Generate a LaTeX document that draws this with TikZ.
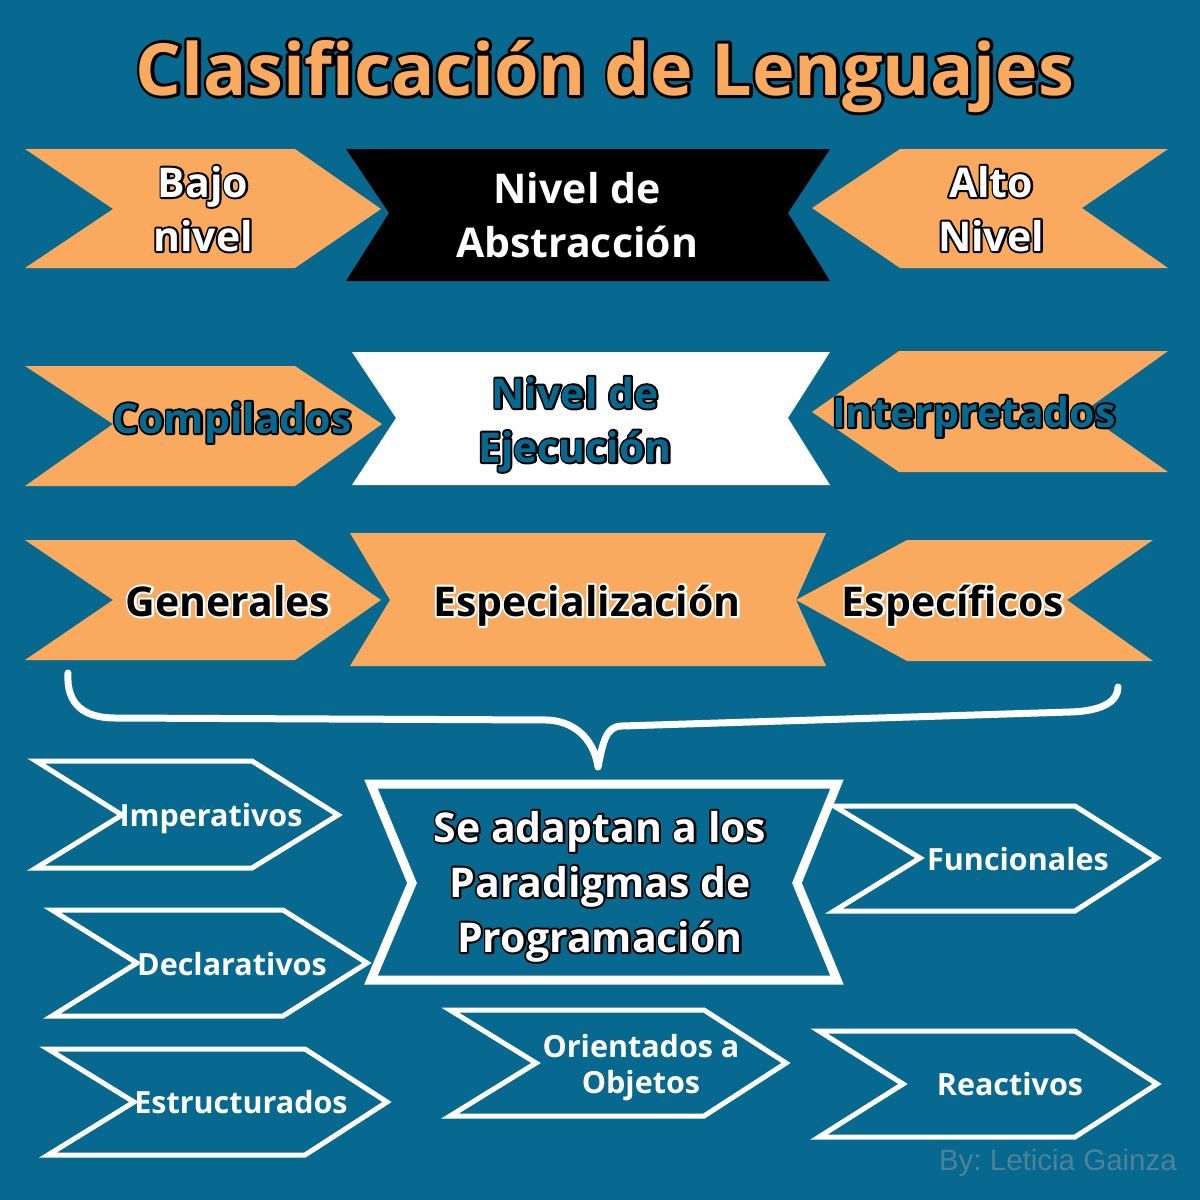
\documentclass[tikz,border=0pt]{standalone}
\usepackage{fontspec}
\setmainfont{Open Sans}
\newfontfamily\byfont{Liberation Sans}
\definecolor{bg}{HTML}{07698F}
\definecolor{org}{HTML}{F9AA5E}
\definecolor{tealtxt}{HTML}{07698F}
\definecolor{bytxt}{HTML}{4F8299}
\frenchspacing
% #1 fill colour, #2 outline colour, #3 stroke width, #4 text
\newcommand\olt[4]{\leavevmode\rlap{\color{#2}\special{pdf:literal direct 1 j #3 w 2 Tr}#4\special{pdf:literal direct 0 Tr}}{\color{#1}#4}}
\begin{document}
\begin{tikzpicture}[x=1pt,y=-1pt,
  orgshape/.style={fill=org},
  chev/.style={draw=white,line width=5pt,line join=miter},
  bigtxt/.style={font=\bfseries\fontsize{41}{54}\selectfont,align=center,inner sep=0pt,anchor=base},
  smalltxt/.style={font=\bfseries\fontsize{30.5}{36}\selectfont,text=white,align=center,inner sep=0pt,anchor=base}]
\fill[bg] (0,0) rectangle (1200,1200);
\useasboundingbox (0,0) rectangle (1200,1200);
% row 1
\fill[orgshape] (25,149) -- (295,149) -- (381,209) -- (295,268) -- (25,268) -- (113,209) -- cycle;
\fill[black] (346,149) -- (830,149) -- (788,213) -- (830,281) -- (346,281) -- (389,213) -- cycle;
\fill[orgshape] (900,149) -- (1168,149) -- (1082,208) -- (1168,268) -- (900,268) -- (812,208) -- cycle;
% row 2
\fill[orgshape] (25,366) -- (295,366) -- (382,424) -- (295,486) -- (25,486) -- (113,424) -- cycle;
\fill[white] (352,352) -- (830,352) -- (788,418) -- (830,485) -- (352,485) -- (396,418) -- cycle;
\fill[orgshape] (899,351) -- (1168,351) -- (1083,412) -- (1168,472) -- (899,472) -- (812,412) -- cycle;
% row 3
\fill[orgshape] (25,540) -- (295,540) -- (381,600) -- (295,660) -- (25,660) -- (113,600) -- cycle;
\fill[orgshape] (350,533) -- (826,533) -- (796,600) -- (826,666) -- (350,666) -- (390,600) -- cycle;
\fill[orgshape] (907,540) -- (1153,540) -- (1067,600) -- (1153,661) -- (907,661) -- (796,600) -- cycle;
% brace
\coordinate (bl) at (68,673);
\coordinate (br) at (1118,687);
\coordinate (bt) at (598,767);
\draw[white,line width=7pt,line cap=round,line join=round] (bl) .. controls (66,705) and (85,718) .. (115,718) -- (548,720) .. controls (580,722) and (595,745) .. (bt) .. controls (603,742) and (606,726) .. (622,726) -- (1070,712) .. controls (1105,711) and (1118,700) .. (br);
% central
\draw[white,line width=9pt,line join=miter] (371,784) -- (837,784) -- (797,883) -- (837,980) -- (371,980) -- (412,883) -- cycle;
% chevrons
\draw[chev] (36,761) -- (252,761) -- (338,815) -- (252,868) -- (36,868) -- (122,815) -- cycle;
\draw[chev] (834,806) -- (1075,806) -- (1157,858) -- (1075,911) -- (834,911) -- (920,858) -- cycle;
\draw[chev] (52,910) -- (283,910) -- (367,963) -- (283,1016) -- (52,1016) -- (137,963) -- cycle;
\draw[chev] (48,1049) -- (305,1049) -- (387,1102) -- (305,1155) -- (48,1155) -- (134,1102) -- cycle;
\draw[chev] (450,1010) -- (704,1010) -- (786,1063) -- (704,1116) -- (450,1116) -- (536,1063) -- cycle;
\draw[chev] (819,1031) -- (1075,1031) -- (1157,1084) -- (1075,1137) -- (819,1137) -- (903,1084) -- cycle;
% texts
\node[font=\bfseries\fontsize{72}{80}\selectfont,inner sep=0pt,anchor=base] (title) at (605,95) {\olt{org}{black}{6}{Clasificación de Lenguajes}};
\node[bigtxt] (bajo) at (203,251) {\olt{white}{black}{4}{Bajo}\\\olt{white}{black}{4}{nivel}};
\node[bigtxt,text=white] (abs) at (577,257) {Nivel de\\Abstracción};
\node[bigtxt] (alto) at (991,251) {\olt{white}{black}{4}{Alto}\\\olt{white}{black}{4}{Nivel}};
\node[bigtxt] (comp) at (232,433) {\olt{tealtxt}{black}{4}{Compilados}};
\node[bigtxt] (ejec) at (575,462) {\olt{tealtxt}{black}{4}{Nivel de}\\\olt{tealtxt}{black}{4}{Ejecución}};
\node[bigtxt] (interp) at (974,427) {\olt{tealtxt}{black}{4}{Interpretados}};
\node[bigtxt] (gen) at (228,616) {\olt{black}{white}{4}{Generales}};
\node[bigtxt] (esp) at (587,616) {\olt{black}{white}{4}{Especialización}};
\node[bigtxt] (espf) at (953,616) {\olt{black}{white}{4}{Específicos}};
\node[bigtxt,font=\bfseries\fontsize{41}{55}\selectfont] (par) at (600,952) {\olt{white}{black}{4}{Se adaptan a los}\\\olt{white}{black}{4}{Paradigmas de}\\\olt{white}{black}{4}{Programación}};
\node[smalltxt] (imp) at (211,826) {Imperativos};
\node[smalltxt] (fun) at (1018,870) {Funcionales};
\node[smalltxt] (dec) at (232,975) {Declarativos};
\node[smalltxt] (poo) at (641,1093) {Orientados a\\Objetos};
\node[smalltxt] (est) at (241,1113) {Estructurados};
\node[smalltxt] (rea) at (1010,1095) {Reactivos};
\node[font=\byfont\fontsize{29.5}{32}\selectfont,text=bytxt,inner sep=0pt,anchor=base east] (by) at (1177,1170) {By: Leticia Gainza};
\end{tikzpicture}
\end{document}
